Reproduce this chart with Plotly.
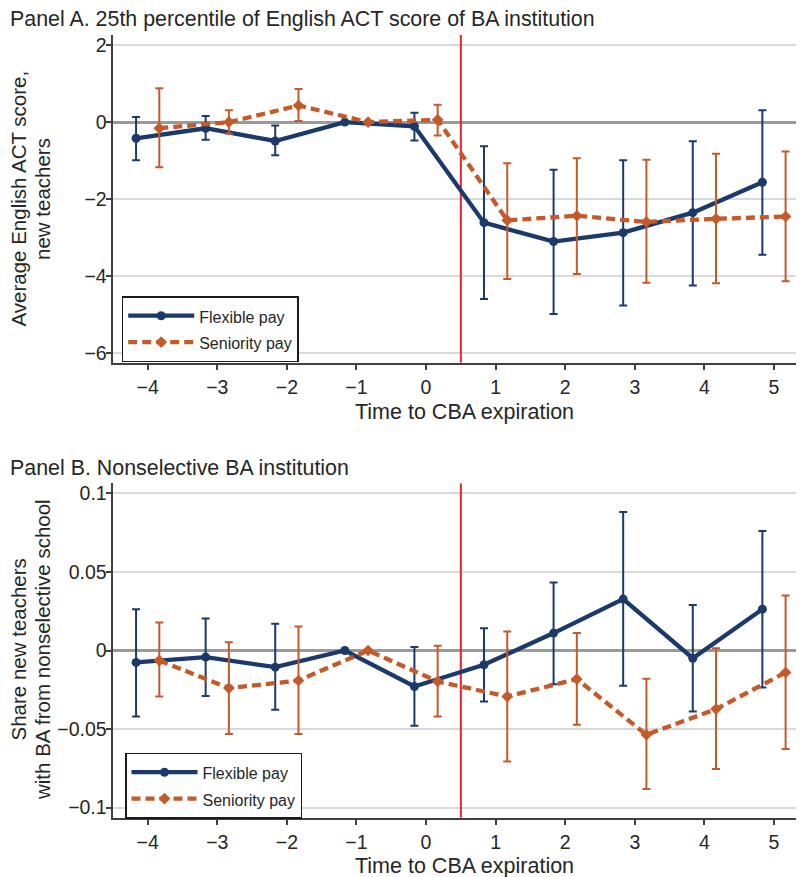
import plotly.graph_objects as go

# ---------------- data ----------------
time = [-4, -3, -2, -1, 0, 1, 2, 3, 4, 5]
x_ticktext = ["−4", "−3", "−2", "−1", "0", "1", "2", "3", "4", "5"]
expiration_line = 0.5

# Panel A: 25th percentile of English ACT score
a_flex = [-0.42, -0.16, -0.49, 0.0, -0.11, -2.61, -3.10, -2.87, -2.35, -1.56]
a_flex_hi = [0.13, 0.16, -0.09, 0.0, 0.24, -0.63, -1.24, -0.99, -0.50, 0.31]
a_flex_lo = [-0.99, -0.46, -0.86, 0.0, -0.48, -4.59, -4.98, -4.76, -4.24, -3.44]
a_sen = [-0.16, 0.0, 0.43, 0.0, 0.06, -2.55, -2.43, -2.59, -2.51, -2.45]
a_sen_hi = [0.88, 0.31, 0.86, 0.0, 0.45, -1.07, -0.94, -0.98, -0.82, -0.76]
a_sen_lo = [-1.17, -0.30, 0.03, 0.0, -0.35, -4.07, -3.94, -4.17, -4.18, -4.13]
a_ytickvals = [-6, -4, -2, 0, 2]
a_yticktext = ["−6", "−4", "−2", "0", "2"]

# Panel B: Nonselective BA institution
b_flex = [-0.0076, -0.0042, -0.0106, 0.0, -0.0229, -0.0091, 0.0111, 0.0327, -0.0049, 0.0263]
b_flex_hi = [0.0263, 0.0204, 0.0170, 0.0, 0.0022, 0.0142, 0.0433, 0.0882, 0.0290, 0.0761]
b_flex_lo = [-0.0420, -0.0290, -0.0377, 0.0, -0.0479, -0.0324, -0.0214, -0.0225, -0.0388, -0.0235]
b_sen = [-0.0064, -0.0239, -0.0191, 0.0, -0.0197, -0.0293, -0.0182, -0.0536, -0.0373, -0.0140]
b_sen_hi = [0.0178, 0.0053, 0.0153, 0.0, 0.0030, 0.0121, 0.0111, -0.0180, 0.0015, 0.0350]
b_sen_lo = [-0.0293, -0.0532, -0.0532, 0.0, -0.0420, -0.0706, -0.0473, -0.0882, -0.0754, -0.0627]
b_ytickvals = [-0.1, -0.05, 0, 0.05, 0.1]
b_yticktext = ["−0.1", "−0.05", "0", "0.05", "0.1"]

series_names = ["Flexible pay", "Seniority pay"]

# ---------------- style ----------------
PAGE_OFF = 8            # default body margin of the html page
W, H = 804 - PAGE_OFF, 877 - PAGE_OFF
NAVY = "#1b3a6b"
ORANGE = "#c45a2a"
RED = "#e8202f"
TXT = "#262626"
AXC = "#404040"
FONT = "Liberation Sans, Arial, Helvetica, sans-serif"
OFFSET = 0.167

XRANGE = [-4.494, 5.417]
A_YRANGE = [-6.244, 2.26]
B_YRANGE = [-0.1064, 0.1064]


def px(x):
    return (x - PAGE_OFF) / W


def py(y):
    return 1 - (y - PAGE_OFF) / H


fig = go.Figure()

# CBA expiration reference line (drawn first so the series sit on top)
for xa, ya, yr in [("x", "y", A_YRANGE), ("x2", "y2", B_YRANGE)]:
    fig.add_trace(go.Scatter(
        x=[expiration_line, expiration_line], y=yr, mode="lines",
        line=dict(color=RED, width=2), xaxis=xa, yaxis=ya,
        showlegend=False, hoverinfo="skip", cliponaxis=False,
    ))


def add_series(xs, ys, hi, lo, name, color, dash, symbol, msize, xa, ya, legend):
    plus = [h - v for h, v in zip(hi, ys)]
    minus = [v - l for v, l in zip(ys, lo)]
    fig.add_trace(go.Scatter(
        x=xs, y=ys, mode="lines+markers",
        name='<span style="font-size:16px">' + name + "</span>",
        line=dict(color=color, width=4.3, dash=dash),
        marker=dict(color=color, size=msize, symbol=symbol),
        error_y=dict(type="data", array=plus, arrayminus=minus, visible=True,
                     color=color, thickness=2, width=4),
        xaxis=xa, yaxis=ya, legend=legend, showlegend=True,
    ))


x_flex = [t - OFFSET for t in time]
x_sen = [t + OFFSET for t in time]

add_series(x_flex, a_flex, a_flex_hi, a_flex_lo, series_names[0], NAVY, "solid", "circle", 9, "x", "y", "legend")
add_series(x_sen, a_sen, a_sen_hi, a_sen_lo, series_names[1], ORANGE, "9px,5px", "diamond", 9, "x", "y", "legend")
add_series(x_flex, b_flex, b_flex_hi, b_flex_lo, series_names[0], NAVY, "solid", "circle", 9, "x2", "y2", "legend2")
add_series(x_sen, b_sen, b_sen_hi, b_sen_lo, series_names[1], ORANGE, "9px,5px", "diamond", 9, "x2", "y2", "legend2")

xdom = [px(113.3), px(803)]

common_x = dict(range=XRANGE, tickvals=time, ticktext=x_ticktext, ticks="outside", ticklen=6,
                tickwidth=1.5, tickcolor=AXC, showline=True, linecolor=AXC, linewidth=1.5,
                showgrid=False, zeroline=False, tickfont=dict(size=19.5, color=TXT, family=FONT),
                fixedrange=True)
common_y = dict(ticks="outside", ticklen=6, tickwidth=1.5, tickcolor=AXC, showline=True,
                linecolor=AXC, linewidth=1.5, showgrid=True, gridcolor="#d9d9d9", gridwidth=1.5,
                zeroline=True, zerolinecolor="#9a9a9a", zerolinewidth=2.5, ticklabelstandoff=-5,
                tickfont=dict(size=19.5, color=TXT, family=FONT), fixedrange=True)

legend_common = dict(xanchor="left", yanchor="top", bgcolor="white", bordercolor="#1a1a1a",
                     borderwidth=1.5, font=dict(size=18, color=TXT, family=FONT), itemwidth=66,
                     tracegroupgap=0)

fig.update_layout(
    template="none",
    width=W, height=H,
    margin=dict(l=0, r=0, t=0, b=0),
    paper_bgcolor="white", plot_bgcolor="white",
    font=dict(family=FONT, color=TXT, size=19.5),
    xaxis=dict(domain=xdom, anchor="y", **common_x),
    yaxis=dict(domain=[py(362.7), py(35)], anchor="x", range=A_YRANGE,
               tickvals=a_ytickvals, ticktext=a_yticktext, **common_y),
    xaxis2=dict(domain=xdom, anchor="y2", **common_x),
    yaxis2=dict(domain=[py(817.7), py(483.3)], anchor="x2", range=B_YRANGE,
                tickvals=b_ytickvals, ticktext=b_yticktext, **common_y),
    legend=dict(x=px(121.7), y=py(296), **legend_common),
    legend2=dict(x=px(125), y=py(752.5), **legend_common),
    showlegend=True,
)

annos = [
    dict(text="Panel A. 25th percentile of English ACT score of BA institution",
         x=px(8), y=py(19), xanchor="left", yanchor="middle", font=dict(size=21.4)),
    dict(text="Panel B. Nonselective BA institution",
         x=px(8), y=py(468), xanchor="left", yanchor="middle", font=dict(size=21.4)),
    dict(text="Time to CBA expiration", x=px(464), y=py(412), xanchor="center", yanchor="middle",
         font=dict(size=21.5)),
    dict(text="Time to CBA expiration", x=px(464), y=py(866), xanchor="center", yanchor="middle",
         font=dict(size=21.5)),
    dict(text="Average English ACT score,", x=px(17.5), y=py(199), textangle=-90,
         xanchor="center", yanchor="middle", font=dict(size=20.5)),
    dict(text="new teachers", x=px(42), y=py(199), textangle=-90,
         xanchor="center", yanchor="middle", font=dict(size=20.5)),
    dict(text="Share new teachers", x=px(17.5), y=py(650), textangle=-90,
         xanchor="center", yanchor="middle", font=dict(size=20.5)),
    dict(text="with BA from nonselective school", x=px(42), y=py(650), textangle=-90,
         xanchor="center", yanchor="middle", font=dict(size=20.5)),
]
for a in annos:
    a.setdefault("xref", "paper")
    a.setdefault("yref", "paper")
    a["showarrow"] = False
    a["font"] = dict(family=FONT, color=TXT, **a["font"])
    fig.add_annotation(**a)

fig.write_html("out.html")
